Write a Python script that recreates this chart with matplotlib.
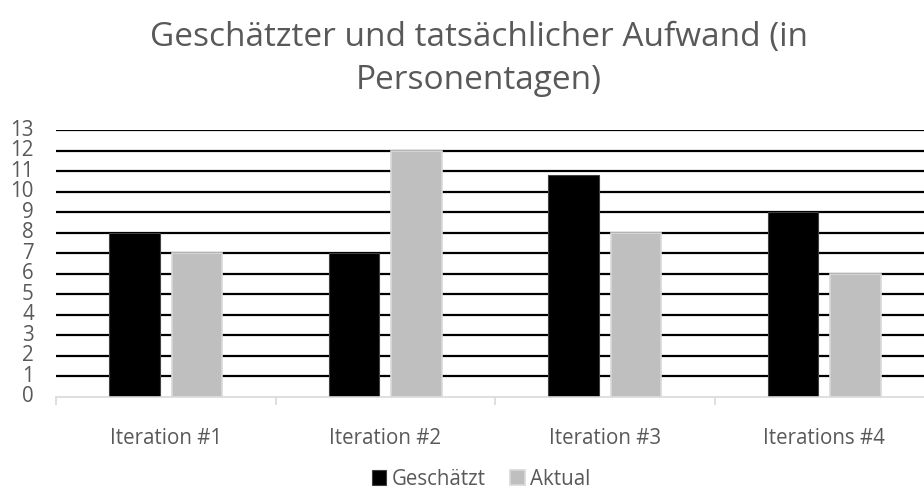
import matplotlib
matplotlib.use("Agg")
import matplotlib.pyplot as plt
import numpy as np

categories = ["Iteration #1", "Iteration #2", "Iteration #3", "Iterations #4"]
geschaetzt = [8, 7, 10.8, 9]
aktual = [7, 12, 8, 6]
series_names = ["Geschätzt", "Aktual"]
title = "Geschätzter und tatsächlicher Aufwand (in\nPersonentagen)"

plt.rcParams['font.family'] = ['Open Sans', 'DejaVu Sans']
txt = "#595959"
fs = 14.8

fig = plt.figure(figsize=(9.24, 4.9), dpi=100)
W, H = 924, 490
left_px, right_px = 56, 934
ax = fig.add_axes([left_px / W, 1 - 397 / H, (right_px - left_px) / W, (397 - 130) / H])

x = np.arange(len(categories))
bw = 0.23
off = 0.142
ax.bar(x - off, geschaetzt, bw, color="black", edgecolor="#404040", linewidth=0.8, zorder=3, label=series_names[0])
ax.bar(x + off, aktual, bw, color="#bfbfbf", edgecolor="#d9d9d9", linewidth=1.2, zorder=3, label=series_names[1])

ax.set_xlim(-0.5, len(categories) - 0.5)
ax.set_ylim(0, 13)
ax.set_yticks(range(0, 14))
ax.yaxis.grid(True, color="black", linewidth=1.6, zorder=0)
ax.set_axisbelow(True)
for sp in ["top", "right", "left"]:
    ax.spines[sp].set_visible(False)
ax.spines["bottom"].set_color("#d9d9d9")
ax.spines["bottom"].set_linewidth(1.2)
ax.spines["bottom"].set_zorder(4)

ax.set_xticks(x)
ax.set_xticklabels(categories, fontsize=fs, color=txt)
ax.set_xticks(np.arange(-0.5, len(categories), 1.0), minor=True)
ax.tick_params(axis="x", which="major", length=0, pad=22)
ax.tick_params(axis="x", which="minor", length=6, color="#d9d9d9", width=1.2)
ax.tick_params(axis="y", length=0, labelsize=fs, labelcolor=txt, pad=16)
for lbl in ax.get_yticklabels():
    lbl.set_verticalalignment("center")

fig.canvas.draw()
ax.get_ygridlines()[0].set_visible(False)

fig.text(479 / W, 1 - 59 / H, title, ha="center", va="center", fontsize=24, color=txt, linespacing=1.4)

fig.legend(loc="center", bbox_to_anchor=(481 / W, 1 - 479 / H), ncol=2, frameon=False,
           fontsize=fs, labelcolor=txt, handlelength=0.72, handleheight=0.72,
           handletextpad=0.25, columnspacing=1.2, borderpad=0.1)

fig.savefig("out.png", dpi=100)
